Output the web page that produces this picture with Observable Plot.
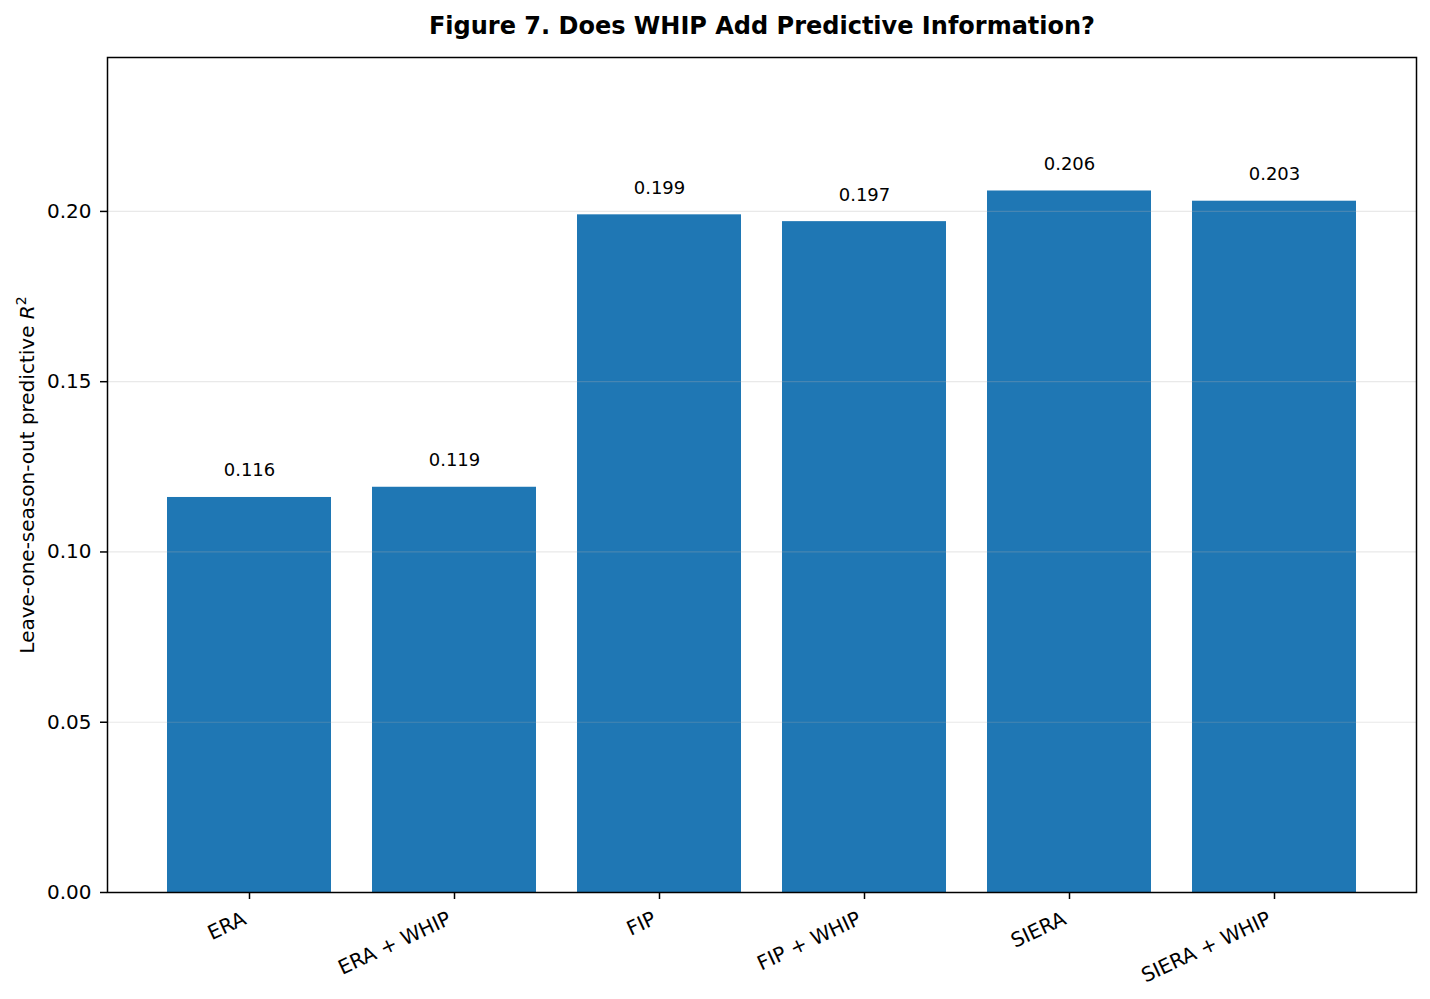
<!DOCTYPE html>
<html>
<head>
<meta charset="utf-8">
<script src="https://cdn.jsdelivr.net/npm/d3@7"></script>
<script src="https://cdn.jsdelivr.net/npm/@observablehq/plot@0.6"></script>
<style>
  html, body { margin: 0; padding: 0; background: #fff; }
  #chart svg { display: block; }
</style>
</head>
<body>
<div id="chart"></div>
<script>
const categories = ["ERA", "ERA + WHIP", "FIP", "FIP + WHIP", "SIERA", "SIERA + WHIP"];
const values = [0.116, 0.119, 0.199, 0.197, 0.206, 0.203];
const yTicks = [0.00, 0.05, 0.10, 0.15, 0.20];
const yMax = 0.2452;
const titleText = "Figure 7. Does WHIP Add Predictive Information?";
const yLabelText = "Leave-one-season-out predictive R2";

const data = categories.map((c, i) => ({category: c, value: values[i]}));
const font = "DejaVu Sans";

const chart = Plot.plot({
  width: 1430,
  height: 999,
  marginLeft: 107,
  marginRight: 14,
  marginTop: 57,
  marginBottom: 107,
  style: {fontFamily: font, background: "#fff", color: "#000"},
  x: {type: "band", domain: categories, paddingInner: 0.2, paddingOuter: 0.29, label: null},
  y: {domain: [0, yMax], label: null},
  marks: [
    Plot.barY(data, {x: "category", y: "value", fill: "#1f77b4"}),
    Plot.gridY(yTicks, {stroke: "#b0b0b0", strokeOpacity: 0.28, strokeWidth: 1.2}),
    Plot.frame({stroke: "#000", strokeWidth: 1.5}),
    Plot.axisY({ticks: yTicks, tickFormat: d3.format(".2f"), tickSize: 7, tickPadding: 9, fontSize: 20, strokeWidth: 1.5, label: null}),
    Plot.axisX({tickSize: 7, tickFormat: () => "", strokeWidth: 1.5, label: null}),
    Plot.text(categories, {x: d => d, frameAnchor: "bottom", dy: 31, dx: -2, rotate: -25, textAnchor: "end", lineAnchor: "bottom", fontSize: 20, fontFamily: font, fill: "#000"}),
    Plot.text(data, {x: "category", y: "value", text: d => d3.format(".3f")(d.value), dy: -21, lineAnchor: "bottom", fontSize: 18, fontFamily: font, fill: "#000"}),
    Plot.text([titleText], {frameAnchor: "top", dy: -24, lineAnchor: "bottom", fontSize: 24, fontWeight: "bold", fontFamily: font, fill: "#000"}),
    Plot.text([yLabelText], {frameAnchor: "left", dx: -74, rotate: -90, lineAnchor: "bottom", textAnchor: "middle", fontSize: 20, fontFamily: font, fill: "#000", className: "ylab"})
  ]
});

document.getElementById("chart").appendChild(chart);

// Style the y label: italic R with superscript 2
d3.select(chart).selectAll("text").each(function() {
  const t = d3.select(this);
  if (t.text() === yLabelText) {
    t.text(null);
    t.append("tspan").text("Leave-one-season-out predictive ");
    t.append("tspan").attr("font-style", "italic").text("R");
    t.append("tspan").attr("font-size", "14px").attr("dy", "-0.55em").text("2");
  }
});
</script>
</body>
</html>
